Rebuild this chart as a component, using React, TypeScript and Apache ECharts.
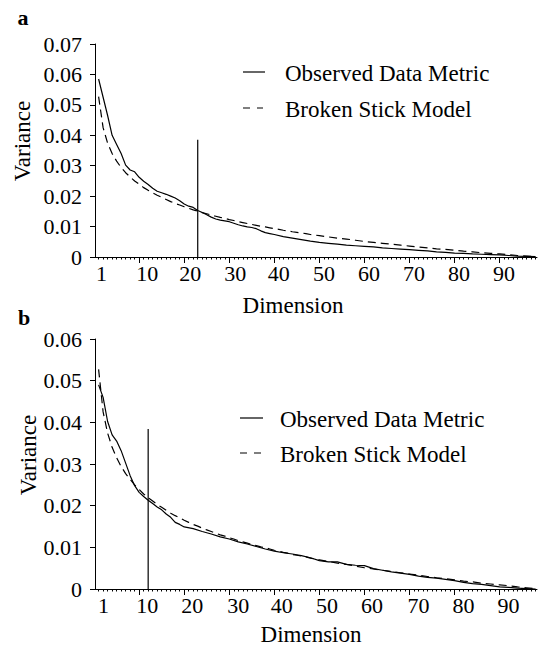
import React, { useEffect, useRef } from "react";
import * as echarts from "echarts";

const FONT = "'Liberation Serif', 'Times New Roman', serif";

// Broken stick model (dimension, variance) – same in both panels
const brokenStick: number[][] = [
  [1, 0.0527], [2, 0.0425], [3, 0.0374], [4, 0.034], [5, 0.0315], [6, 0.0294], [7, 0.0277], [8, 0.0263],
  [9, 0.025], [10, 0.0239], [11, 0.0228], [12, 0.0219], [13, 0.0211], [14, 0.0203], [15, 0.0196], [16, 0.0189],
  [17, 0.0182], [18, 0.0176], [19, 0.0171], [20, 0.0165], [21, 0.016], [22, 0.0155], [23, 0.0151], [24, 0.0146],
  [25, 0.0142], [26, 0.0138], [27, 0.0134], [28, 0.013], [29, 0.0127], [30, 0.0123], [31, 0.012], [32, 0.0116],
  [33, 0.0113], [34, 0.011], [35, 0.0107], [36, 0.0104], [37, 0.0101], [38, 0.0099], [39, 0.0096], [40, 0.0093],
  [41, 0.0091], [42, 0.0088], [43, 0.0086], [44, 0.0083], [45, 0.0081], [46, 0.0079], [47, 0.0077], [48, 0.0074],
  [49, 0.0072], [50, 0.007], [52, 0.0066], [54, 0.0062], [56, 0.0059], [58, 0.0055], [60, 0.0051], [62, 0.0048],
  [64, 0.0045], [66, 0.0042], [68, 0.0039], [70, 0.0036], [72, 0.0033], [74, 0.003], [76, 0.0027], [78, 0.0025],
  [80, 0.0022], [82, 0.0019], [84, 0.0017], [86, 0.0014], [88, 0.0012], [90, 0.001], [92, 0.0008], [94, 0.0005],
  [96, 0.0003], [98, 0.0001],
];

// Panel a: observed data metric
const observedA: number[][] = [
  [1, 0.0585], [2, 0.0525], [3, 0.0465], [4, 0.04], [5, 0.037], [6, 0.034], [7, 0.0302], [8, 0.0286],
  [9, 0.028], [10, 0.0262], [11, 0.0249], [12, 0.0238], [13, 0.0226], [14, 0.0216], [15, 0.0211], [16, 0.0206],
  [17, 0.02], [18, 0.0194], [19, 0.0185], [20, 0.0174], [21, 0.0167], [22, 0.0163], [23, 0.0153], [24, 0.0146],
  [25, 0.0139], [26, 0.0131], [27, 0.0125], [28, 0.0121], [29, 0.0119], [30, 0.0116], [31, 0.0111], [32, 0.0106],
  [33, 0.0102], [34, 0.0099], [35, 0.0097], [36, 0.0093], [37, 0.0086], [38, 0.008], [39, 0.0077], [40, 0.0074],
  [42, 0.0067], [44, 0.0062], [46, 0.0057], [48, 0.0052], [50, 0.0048], [52, 0.0045], [54, 0.0042], [56, 0.0039],
  [58, 0.0037], [60, 0.0035], [62, 0.0033], [64, 0.003], [66, 0.0028], [68, 0.0026], [70, 0.0024], [72, 0.0022],
  [74, 0.002], [76, 0.0017], [78, 0.0015], [80, 0.0013], [82, 0.0012], [84, 0.001], [86, 0.0009], [88, 0.0008],
  [90, 0.0007], [92, 0.0005], [94, 0.0003], [96, 0.0002], [98, 0.0001],
];

// Panel b: observed data metric
const observedB: number[][] = [
  [1, 0.049], [2, 0.046], [3, 0.0402], [4, 0.037], [5, 0.0355], [6, 0.0332], [7, 0.0302], [8, 0.0272],
  [9, 0.0248], [10, 0.0232], [11, 0.0222], [12, 0.0213], [13, 0.0205], [14, 0.0197], [15, 0.019], [16, 0.018],
  [17, 0.0172], [18, 0.016], [19, 0.0155], [20, 0.0149], [22, 0.0145], [24, 0.0138], [26, 0.0132], [28, 0.0125],
  [30, 0.012], [32, 0.0113], [34, 0.0108], [36, 0.0102], [38, 0.0096], [40, 0.0091], [42, 0.0087], [44, 0.0084],
  [46, 0.008], [48, 0.0075], [50, 0.0068], [52, 0.0065], [54, 0.0065], [56, 0.0059], [58, 0.0057], [60, 0.0056],
  [62, 0.0049], [64, 0.0045], [66, 0.0041], [68, 0.0038], [70, 0.0035], [72, 0.0031], [74, 0.0028], [76, 0.0026],
  [78, 0.0023], [80, 0.002], [82, 0.0016], [84, 0.0013], [86, 0.0011], [88, 0.0008], [90, 0.0005], [92, 0.0004],
  [94, 0.0002], [96, 0.0001], [98, 0],
];

// Cut-off markers (dimension, line height)
const cutoffA = [23, 0.0385];
const cutoffB = [12, 0.0384];

const xLabelValues = [1, 10, 20, 30, 40, 50, 60, 70, 80, 90];
const xMajorTicks = [10, 20, 30, 40, 50, 60, 70, 80, 90];
const xMinorTicks = Array.from({ length: 98 }, (_, i) => i + 1);
const X_MIN = 0.2;
const X_MAX = 98.3;

const legendNames = ["Observed Data Metric", "Broken Stick Model"];
const panelLabels = ["a", "b"];
const axisNames = { x: "Dimension", y: "Variance" };

// label shift (px) to the right of the tick, per panel
const shiftA: Record<number, number> = { 1: 3, 10: 8, 20: 6, 30: 6, 40: 4.5, 50: 4.5, 60: 4.5, 70: 4.5, 80: 4.5, 90: 4.5 };
const shiftB: Record<number, number> = { 1: 5, 10: 8, 20: 8, 30: 9, 40: 7.5, 50: 7.5, 60: 7.5, 70: 9, 80: 9, 90: 9 };

function makeRich(shift: Record<number, number>) {
  const rich: Record<string, any> = {};
  Object.keys(shift).forEach((k) => {
    rich["s" + k] = {
      fontFamily: FONT,
      fontSize: 22,
      color: "#000",
      padding: [0, 0, 0, shift[Number(k)] * 2],
    };
  });
  return rich;
}

function xAxes(grid: number, shift: Record<number, number>) {
  return [
    {
      type: "value",
      gridIndex: grid,
      position: "bottom",
      min: X_MIN,
      max: X_MAX,
      axisLine: { show: true, onZero: false, lineStyle: { color: "#000", width: 1 } },
      axisTick: { show: true, customValues: xMajorTicks, length: 6, lineStyle: { color: "#000", width: 1 } },
      axisLabel: {
        show: true,
        customValues: xLabelValues,
        margin: 5,
        fontFamily: FONT,
        fontSize: 22,
        color: "#000",
        formatter: (v: number) => {
          const r = Math.round(v);
          return `{s${r}|${r}}`;
        },
        rich: makeRich(shift),
      },
      splitLine: { show: false },
    },
    {
      type: "value",
      gridIndex: grid,
      position: "bottom",
      min: X_MIN,
      max: X_MAX,
      axisLine: { show: false, onZero: false },
      axisTick: { show: true, customValues: xMinorTicks, length: 2.5, lineStyle: { color: "#000", width: 1 } },
      axisLabel: { show: false },
      splitLine: { show: false },
    },
  ];
}

function yAxis(grid: number, max: number) {
  return {
    type: "value",
    gridIndex: grid,
    min: 0,
    max,
    interval: 0.01,
    axisLine: { show: true, lineStyle: { color: "#000", width: 1 } },
    axisTick: { show: true, length: 5, lineStyle: { color: "#000", width: 1 } },
    axisLabel: {
      margin: 13,
      fontFamily: FONT,
      fontSize: 22,
      color: "#000",
      formatter: (v: number) => (v === 0 ? "0" : v.toFixed(2)),
    },
    splitLine: { show: false },
  };
}

function lineSeries(data: number[][], xi: number, yi: number, dashed: boolean) {
  return {
    type: "line",
    xAxisIndex: xi,
    yAxisIndex: yi,
    data,
    symbol: "none",
    smooth: false,
    lineStyle: { color: "#000", width: 1.2, type: dashed ? [8, 5] : "solid" },
    silent: true,
  };
}

function textEl(text: string, x: number, y: number, opts: any = {}) {
  return {
    type: "text",
    x,
    y,
    rotation: opts.rotation || 0,
    style: {
      text,
      fill: "#000",
      font: `${opts.bold ? "bold " : ""}${opts.size || 23}px ${FONT}`,
      align: opts.align || "center",
      verticalAlign: "middle",
    },
  };
}

function legendEls(x0: number, x1: number, tx: number, y1: number, y2: number) {
  return [
    { type: "line", shape: { x1: x0, y1, x2: x1, y2: y1 }, style: { stroke: "#000", lineWidth: 1.2 } },
    { type: "line", shape: { x1: x0, y1: y2, x2: x1 - 2, y2 }, style: { stroke: "#000", lineWidth: 1.2, lineDash: [7, 7] } },
    textEl(legendNames[0], tx, y1 + 1, { align: "left" }),
    textEl(legendNames[1], tx, y2 + 1, { align: "left" }),
  ];
}

export default function App() {
  const ref = useRef<HTMLDivElement>(null);
  useEffect(() => {
    if (!ref.current) return;
    const chart = echarts.init(ref.current, undefined, { renderer: "svg" });
    const option: any = {
      animation: false,
      backgroundColor: "#fff",
      grid: [
        { left: 95, top: 44, width: 442, height: 213 },
        { left: 95, top: 339, width: 442, height: 250 },
      ],
      xAxis: [...xAxes(0, shiftA), ...xAxes(1, shiftB)],
      yAxis: [yAxis(0, 0.07), yAxis(1, 0.06)],
      series: [
        lineSeries(observedA, 0, 0, false),
        lineSeries(brokenStick, 0, 0, true),
        lineSeries([[cutoffA[0], 0], [cutoffA[0], cutoffA[1]]], 0, 0, false),
        lineSeries(observedB, 2, 1, false),
        lineSeries(brokenStick, 2, 1, true),
        lineSeries([[cutoffB[0], 0], [cutoffB[0], cutoffB[1]]], 2, 1, false),
      ],
      graphic: [
        textEl(panelLabels[0], 23, 17, { bold: true, size: 22 }),
        textEl(panelLabels[1], 24, 317, { bold: true, size: 22 }),
        textEl(axisNames.y, 22, 141, { rotation: Math.PI / 2 }),
        textEl(axisNames.y, 28, 455, { rotation: Math.PI / 2 }),
        textEl(axisNames.x, 293, 305),
        textEl(axisNames.x, 311, 634),
        ...legendEls(243, 265, 285, 72, 108),
        ...legendEls(240, 263, 280, 418, 453),
      ],
    };
    chart.setOption(option);
    return () => chart.dispose();
  }, []);
  return (
    <div
      ref={ref}
      style={{ position: "fixed", left: 0, top: 0, width: 539, height: 648 }}
    />
  );
}
